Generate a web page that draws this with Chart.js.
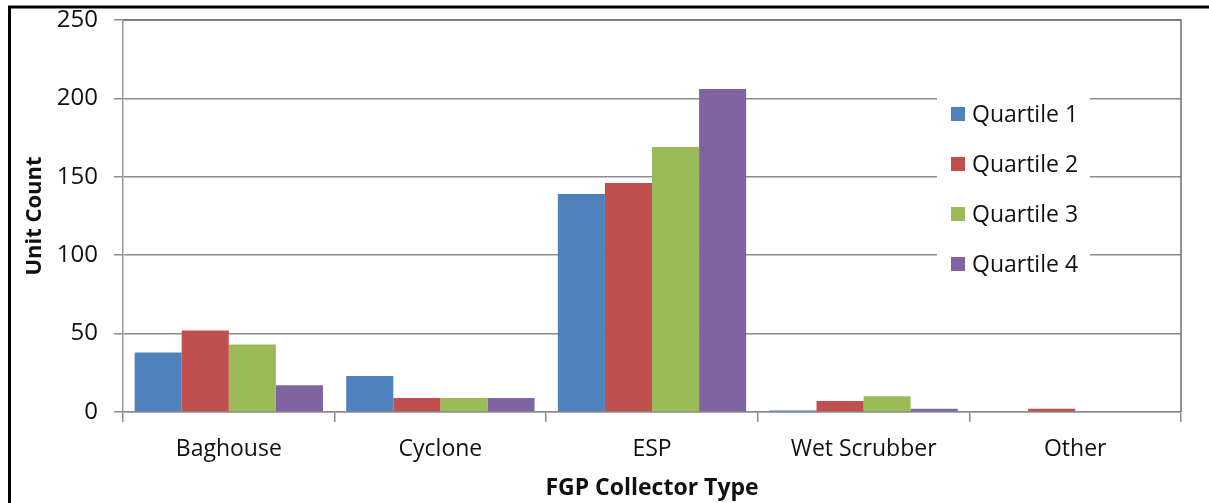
<!DOCTYPE html>
<html>
<head>
<meta charset="utf-8">
<script src="https://cdn.jsdelivr.net/npm/chart.js@4.4.1/dist/chart.umd.min.js"></script>
<style>
  html, body { margin: 0; padding: 0; background: #ffffff; }
  #wrap { width: 1209px; height: 503px; position: relative; }
</style>
</head>
<body>
<div id="wrap"><canvas id="chart" width="1209" height="503"></canvas></div>
<script>
// Collector types and unit counts per quartile
const categories = ['Baghouse', 'Cyclone', 'ESP', 'Wet Scrubber', 'Other'];
const seriesNames = ['Quartile 1', 'Quartile 2', 'Quartile 3', 'Quartile 4'];
const quartile1 = [38, 23, 139, 1, 0];
const quartile2 = [52, 9, 146, 7, 2];
const quartile3 = [43, 9, 169, 10, 0];
const quartile4 = [17, 9, 206, 2, 0];
const yTicks = [0, 50, 100, 150, 200, 250];
const xTitle = 'FGP Collector Type';
const yTitle = 'Unit Count';

const colors = ['#4F81BD', '#C0504D', '#9BBB59', '#8064A2'];
const values = [quartile1, quartile2, quartile3, quartile4];
const FONT = "'Open Sans', 'DejaVu Sans', sans-serif";
const TEXT = '#111111';

// Outer frame, plot border and the legend box drawn inside the plot
const framePlugin = {
  id: 'frameAndLegend',
  beforeDraw(chart) {
    const ctx = chart.ctx;
    ctx.save();
    ctx.fillStyle = '#ffffff';
    ctx.fillRect(0, 0, chart.width, chart.height);
    ctx.restore();
  },
  afterDraw(chart) {
    const ctx = chart.ctx;
    const a = chart.chartArea;
    ctx.save();
    // outer frame (left and top edges)
    ctx.strokeStyle = '#000000';
    ctx.lineWidth = 3;
    ctx.beginPath();
    ctx.moveTo(9.5, chart.height + 5);
    ctx.lineTo(9.5, 7);
    ctx.lineTo(chart.width + 5, 7);
    ctx.stroke();
    // plot area top/right border
    ctx.strokeStyle = '#6e6e6e';
    ctx.lineWidth = 1.5;
    ctx.beginPath();
    ctx.moveTo(a.left, a.top);
    ctx.lineTo(a.right, a.top);
    ctx.lineTo(a.right, a.bottom);
    ctx.stroke();

    // legend
    const lx = 937, ly = 84, lw = 153, lh = 204;
    ctx.fillStyle = '#ffffff';
    ctx.fillRect(lx, ly, lw, lh);
    ctx.font = '23px ' + FONT;
    ctx.textBaseline = 'middle';
    ctx.textAlign = 'left';
    chart.data.datasets.forEach((ds, i) => {
      const cy = 114 + i * 50;
      ctx.fillStyle = ds.backgroundColor;
      ctx.fillRect(951, cy - 7, 14, 14);
      ctx.fillStyle = TEXT;
      ctx.fillText(ds.label, 972, cy + 1);
    });
    ctx.restore();
  }
};

new Chart(document.getElementById('chart'), {
  type: 'bar',
  data: {
    labels: categories,
    datasets: seriesNames.map((name, i) => ({
      label: name,
      data: values[i],
      backgroundColor: colors[i],
      borderColor: colors[i],
      borderWidth: 0,
      categoryPercentage: 0.89,
      barPercentage: 1.0
    }))
  },
  options: {
    responsive: false,
    animation: false,
    devicePixelRatio: 1,
    layout: { padding: { left: 12, top: 20, right: 28, bottom: 1 } },
    plugins: {
      legend: { display: false },
      tooltip: { enabled: false }
    },
    scales: {
      x: {
        offset: true,
        grid: {
          display: true,
          offset: true,
          drawOnChartArea: false,
          drawTicks: true,
          tickLength: 10,
          color: '#8c8c8c',
          lineWidth: 1.5
        },
        border: { display: true, color: '#8c8c8c', width: 1.5 },
        ticks: {
          color: TEXT,
          font: { family: FONT, size: 23 },
          padding: 14,
          maxRotation: 0
        },
        title: {
          display: true,
          text: xTitle,
          color: TEXT,
          font: { family: FONT, size: 23, weight: 'bold' },
          padding: { top: 0, bottom: 0 }
        },
        afterFit(scale) {
          scale.height = 90;
          scale.paddingLeft = 0;
          scale.paddingRight = 0;
        }
      },
      y: {
        min: 0,
        max: 250,
        afterBuildTicks(scale) { scale.ticks = yTicks.map(v => ({ value: v })); },
        grid: {
          color: '#8c8c8c',
          lineWidth: 1.5,
          drawTicks: true,
          tickLength: 9
        },
        border: { display: true, color: '#9a9a9a', width: 1.5 },
        ticks: {
          color: TEXT,
          font: { family: FONT, size: 24 },
          padding: 16
        },
        title: {
          display: true,
          text: yTitle,
          color: TEXT,
          font: { family: FONT, size: 22, weight: 'bold' },
          padding: { top: 10, bottom: 0 }
        },
        afterFit(scale) {
          scale.width = 111;
          scale.paddingTop = 0;
          scale.paddingBottom = 0;
        }
      }
    }
  },
  plugins: [framePlugin]
});
</script>
</body>
</html>
